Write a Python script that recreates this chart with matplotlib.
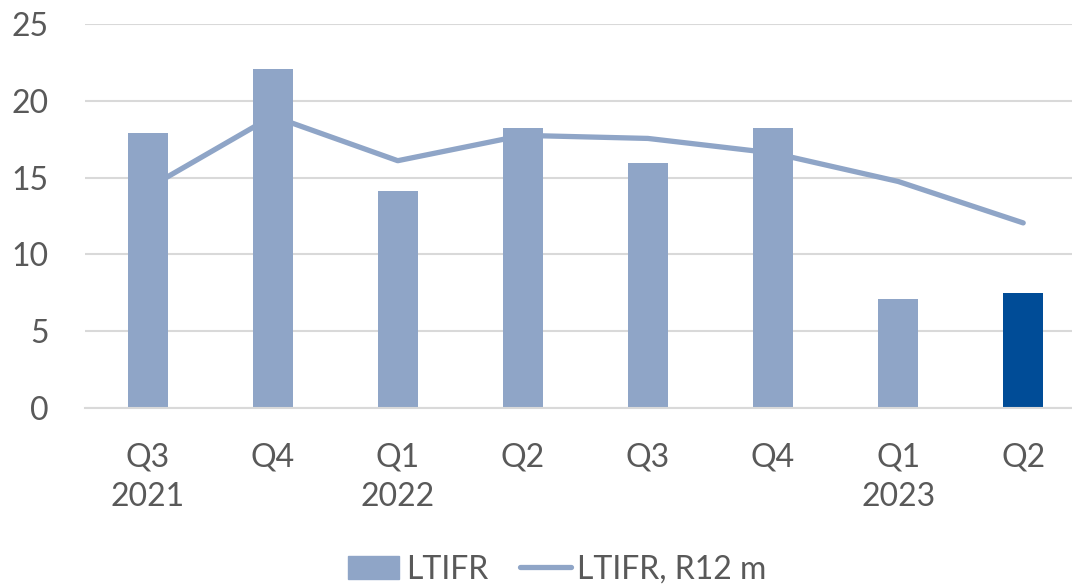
import matplotlib.pyplot as plt
from matplotlib.patches import Patch
from matplotlib.lines import Line2D

quarters = ["Q3\n2021", "Q4", "Q1\n2022", "Q2", "Q3", "Q4", "Q1\n2023", "Q2"]
ltifr = [17.9, 22.05, 14.15, 18.25, 15.95, 18.25, 7.1, 7.5]
ltifr_r12 = [14.3, 19.0, 16.1, 17.75, 17.55, 16.6, 14.75, 12.05]

light = "#8FA5C7"
dark = "#004C97"
grey_text = "#595959"

plt.rcParams['font.family'] = ['Lato', 'DejaVu Sans']

fig = plt.figure(figsize=(10.72, 5.86), dpi=100)
ax = fig.add_axes([85 / 1072, 1 - 408 / 586, 1 - 85 / 1072, (408 - 24) / 586])

x = list(range(len(quarters)))
colors = [light] * (len(quarters) - 1) + [dark]
ax.bar(x, ltifr, width=0.32, color=colors, zorder=2)
ax.plot(x, ltifr_r12, color=light, linewidth=3.8, solid_capstyle='round', zorder=3)

ax.set_ylim(0, 25)
ax.set_xlim(-0.5, 7.39)
ax.set_yticks([0, 5, 10, 15, 20, 25])
ax.set_xticks(x)
ax.set_xticklabels(quarters, linespacing=1.4)
ax.yaxis.grid(True, color="#d9d9d9", linewidth=1.5, zorder=0)
ax.set_axisbelow(True)
for s in ["top", "right", "left"]:
    ax.spines[s].set_visible(False)
ax.spines["bottom"].set_color("#d9d9d9")
ax.spines["bottom"].set_linewidth(1.5)
ax.tick_params(axis='both', length=0, labelsize=23, labelcolor=grey_text)
ax.tick_params(axis='y', pad=26)
ax.tick_params(axis='x', pad=25)
for lbl in ax.get_xticklabels():
    lbl.set_verticalalignment('top')

handles = [Patch(color=light, label="LTIFR"),
           Line2D([0], [0], color=light, linewidth=3.8, solid_capstyle='round', label="LTIFR, R12 m")]
fig.legend(handles=handles, loc='center', bbox_to_anchor=(0.52, 0.028), ncol=2,
           frameon=False, fontsize=23, labelcolor=grey_text, handlelength=1.6,
           handleheight=0.7, handletextpad=0.2, columnspacing=1.0)

fig.savefig("out.png", dpi=100)
